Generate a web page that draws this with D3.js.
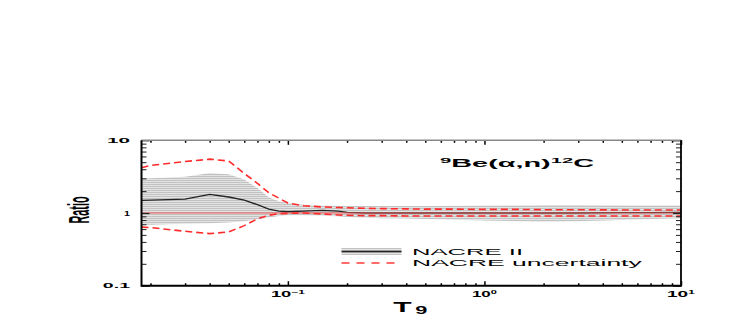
<!DOCTYPE html>
<html>
<head>
<meta charset="utf-8">
<script src="https://cdn.jsdelivr.net/npm/d3@7"></script>
<style>
  body { margin: 0; background: #fff; }
  text { font-family: "Liberation Sans", Arial, sans-serif; }
</style>
</head>
<body>
<svg id="chart" width="747" height="320"></svg>
<script>
// T9 grid and ratios
const t9 = [0.018, 0.02, 0.03, 0.04, 0.05, 0.06, 0.07, 0.08, 0.09, 0.1, 0.12, 0.15, 0.18, 0.2, 0.25, 0.3, 0.4, 0.5, 0.7, 1, 1.5, 2, 3, 5, 7, 10];
const nacre2Rec  = [1.49, 1.50, 1.55, 1.80, 1.66, 1.50, 1.30, 1.13, 1.06, 1.04, 1.06, 1.09, 1.06, 1.02, 1.0, 1.0, 1.0, 1.0, 1.0, 1.0, 1.0, 1.0, 1.0, 1.01, 1.01, 1.02];
const nacre2High = [2.95, 3.0, 3.15, 3.55, 3.4, 2.9, 2.2, 1.65, 1.45, 1.37, 1.3, 1.27, 1.26, 1.25, 1.25, 1.25, 1.25, 1.25, 1.26, 1.27, 1.28, 1.29, 1.29, 1.28, 1.28, 1.28];
const nacre2Low  = [0.69, 0.69, 0.71, 0.72, 0.74, 0.77, 0.82, 0.87, 0.91, 0.93, 0.93, 0.92, 0.90, 0.88, 0.86, 0.85, 0.84, 0.83, 0.81, 0.79, 0.77, 0.76, 0.77, 0.80, 0.83, 0.85];
const nacreHigh  = [4.2, 4.5, 5.1, 5.5, 5.2, 3.5, 2.55, 1.9, 1.6, 1.37, 1.26, 1.21, 1.19, 1.18, 1.16, 1.15, 1.14, 1.13, 1.13, 1.12, 1.12, 1.11, 1.11, 1.1, 1.1, 1.1];
const nacreLow   = [0.64, 0.63, 0.56, 0.52, 0.55, 0.67, 0.83, 0.93, 0.98, 0.99, 1.0, 0.97, 0.94, 0.93, 0.92, 0.92, 0.91, 0.91, 0.91, 0.91, 0.91, 0.91, 0.91, 0.91, 0.91, 0.91];

const xTicks = [0.1, 1, 10];
const xTickExp = ["-1", "0", "1"];
const yTicks = [0.1, 1, 10];
const yTickLabels = ["0.1", "1", "10"];
const legendLabels = ["NACRE II", "NACRE uncertainty"];

const plotL = 141.5, plotR = 681, plotT = 140.3, plotB = 285.7;

const svg = d3.select('#chart');

const x = d3.scaleLog().domain([0.018, 10]).range([plotL, plotR]);
const y = d3.scaleLog().domain([0.1, 10]).range([plotB, plotT]);

const rows = t9.map((t, i) => ({
  t: t, rec: nacre2Rec[i], hi: nacre2High[i], lo: nacre2Low[i],
  nhi: nacreHigh[i], nlo: nacreLow[i]
}));

// hatched grey fill
const defs = svg.append('defs');
const pat = defs.append('pattern')
  .attr('id', 'hatch')
  .attr('patternUnits', 'userSpaceOnUse')
  .attr('width', 6).attr('height', 2);
pat.append('rect').attr('width', 6).attr('height', 2).attr('fill', '#e3e3e3');
pat.append('rect').attr('width', 6).attr('height', 1).attr('fill', '#c2c2c2');

defs.append('clipPath').attr('id', 'clip')
  .append('rect')
  .attr('x', plotL).attr('y', plotT)
  .attr('width', plotR - plotL).attr('height', plotB - plotT);

const plot = svg.append('g').attr('clip-path', 'url(#clip)');

plot.append('path')
  .datum(rows)
  .attr('fill', 'url(#hatch)')
  .attr('d', d3.area().x(d => x(d.t)).y0(d => y(d.lo)).y1(d => y(d.hi)));

plot.append('path')
  .datum(rows)
  .attr('fill', 'none')
  .attr('stroke', '#222')
  .attr('stroke-width', 1.3)
  .attr('d', d3.line().x(d => x(d.t)).y(d => y(d.rec)));

plot.append('line')
  .attr('x1', plotL).attr('x2', plotR)
  .attr('y1', y(1)).attr('y2', y(1))
  .attr('stroke', '#f05a5a')
  .attr('stroke-width', 1.2);

['nhi', 'nlo'].forEach(k => {
  plot.append('path')
    .datum(rows)
    .attr('fill', 'none')
    .attr('stroke', '#ff2a2a')
    .attr('stroke-width', 1.6)
    .attr('stroke-dasharray', '7,4')
    .attr('d', d3.line().x(d => x(d.t)).y(d => y(d[k])));
});

// axes: ticks point inwards on all four sides
function minorTicks(domain) {
  const out = [];
  for (let e = -2; e <= 1; e++) {
    for (let m = 1; m <= 9; m++) {
      const v = m * Math.pow(10, e);
      if (v >= domain[0] * 0.999 && v <= domain[1] * 1.001) out.push(v);
    }
  }
  return out;
}
const xMinor = minorTicks(x.domain()).filter(v => !xTicks.some(t => Math.abs(t - v) < 1e-9));
const yMinor = minorTicks(y.domain()).filter(v => !yTicks.some(t => Math.abs(t - v) < 1e-9));

function addAxis(axisFn, scale, vals, len, pos, color, width) {
  const g = svg.append('g')
    .attr('transform', pos)
    .call(axisFn(scale).tickValues(vals).tickSize(-len).tickFormat(''));
  g.select('.domain').remove();
  g.selectAll('.tick line').attr('stroke', color).attr('stroke-width', width);
  return g;
}
addAxis(d3.axisBottom, x, xMinor, 2.5, `translate(0,${plotB})`, '#000', 1.5);
addAxis(d3.axisBottom, x, xTicks, 4.5, `translate(0,${plotB})`, '#000', 1.5);
addAxis(d3.axisTop, x, xMinor, 2.5, `translate(0,${plotT})`, '#000', 1.5);
addAxis(d3.axisTop, x, xTicks, 4.5, `translate(0,${plotT})`, '#000', 1.5);
addAxis(d3.axisLeft, y, yMinor, 5, `translate(${plotL},0)`, '#222', 1);
addAxis(d3.axisLeft, y, yTicks, 8, `translate(${plotL},0)`, '#222', 1.2);
addAxis(d3.axisRight, y, yMinor, 5, `translate(${plotR},0)`, '#222', 1);
addAxis(d3.axisRight, y, yTicks, 8, `translate(${plotR},0)`, '#222', 1.2);

// frame
svg.append('line').attr('x1', plotL).attr('x2', plotR).attr('y1', plotT).attr('y2', plotT)
  .attr('stroke', '#888').attr('stroke-width', 1.5);
svg.append('line').attr('x1', plotL).attr('x2', plotR).attr('y1', plotB).attr('y2', plotB)
  .attr('stroke', '#000').attr('stroke-width', 2);
svg.append('line').attr('x1', plotL).attr('x2', plotL).attr('y1', plotT).attr('y2', plotB + 1)
  .attr('stroke', '#000').attr('stroke-width', 2);
svg.append('line').attr('x1', plotR).attr('x2', plotR).attr('y1', plotT).attr('y2', plotB + 1)
  .attr('stroke', '#000').attr('stroke-width', 1.8);

// the original lettering is squashed vertically: fit width and cap height
function fitText(px, py, width, capH, anchor, weight, build, rot) {
  const g = svg.append('g').attr('transform', `translate(${px},${py})` + (rot ? ` rotate(${rot})` : ''));
  const t = g.append('text')
    .attr('font-size', capH / 0.716)
    .attr('font-weight', weight)
    .attr('text-anchor', anchor)
    .attr('fill', '#000');
  build(t, capH / 0.716);
  const w = t.node().getBBox().width;
  t.attr('transform', `scale(${width / w},1)`);
  return t;
}

// y tick labels
const yLabWidth = [29, 7, 23];
yTicks.forEach((v, i) => {
  fitText(130, y(v) + 2.5, yLabWidth[i], 5.5, 'end', 'bold', t => t.text(yTickLabels[i]), 0);
});

// x tick labels with exponents
const xLabWidth = [34, 25, 28];
xTicks.forEach((v, i) => {
  fitText(x(v), 296.7, xLabWidth[i], 6, 'middle', 'bold', (t, fs) => {
    t.append('tspan').text('10');
    t.append('tspan').attr('dy', -fs * 0.35).attr('font-size', fs * 0.65).text(xTickExp[i].replace('-', '\u2212'));
  }, 0);
});

// axis titles
fitText(393.3, 311.7, 35, 10, 'start', 'bold', (t, fs) => {
  t.append('tspan').text('T');
  t.append('tspan').attr('dx', fs * 0.12).attr('dy', fs * 0.2).attr('font-size', fs * 0.72).text('9');
}, 0);
fitText(89.3, 210, 27, 21, 'middle', 'bold', t => t.text('Ratio'), -90);

// reaction label
fitText(440, 167.3, 154, 8, 'start', 'bold', (t, fs) => {
  t.append('tspan').attr('font-size', fs * 0.7).attr('dy', -fs * 0.35).text('9');
  t.append('tspan').attr('dy', fs * 0.35).text('Be(\u03b1,n)');
  t.append('tspan').attr('font-size', fs * 0.7).attr('dy', -fs * 0.35).text('12');
  t.append('tspan').attr('dy', fs * 0.35).text('C');
}, 0);

// legend
const lg = svg.append('g');
lg.append('rect').attr('x', 341.5).attr('y', 248).attr('width', 60).attr('height', 7)
  .attr('fill', 'url(#hatch)');
lg.append('line').attr('x1', 341.5).attr('x2', 401.5).attr('y1', 251.5).attr('y2', 251.5)
  .attr('stroke', '#222').attr('stroke-width', 1.3);
lg.append('line').attr('x1', 341.5).attr('x2', 401.5).attr('y1', 263).attr('y2', 263)
  .attr('stroke', '#ff3a3a').attr('stroke-width', 1.4).attr('stroke-dasharray', '8,7');
fitText(412, 254.5, 111, 7, 'start', 'normal', t => t.text(legendLabels[0]), 0);
fitText(412, 266, 230, 7, 'start', 'normal', t => t.text(legendLabels[1]), 0);
</script>
</body>
</html>
